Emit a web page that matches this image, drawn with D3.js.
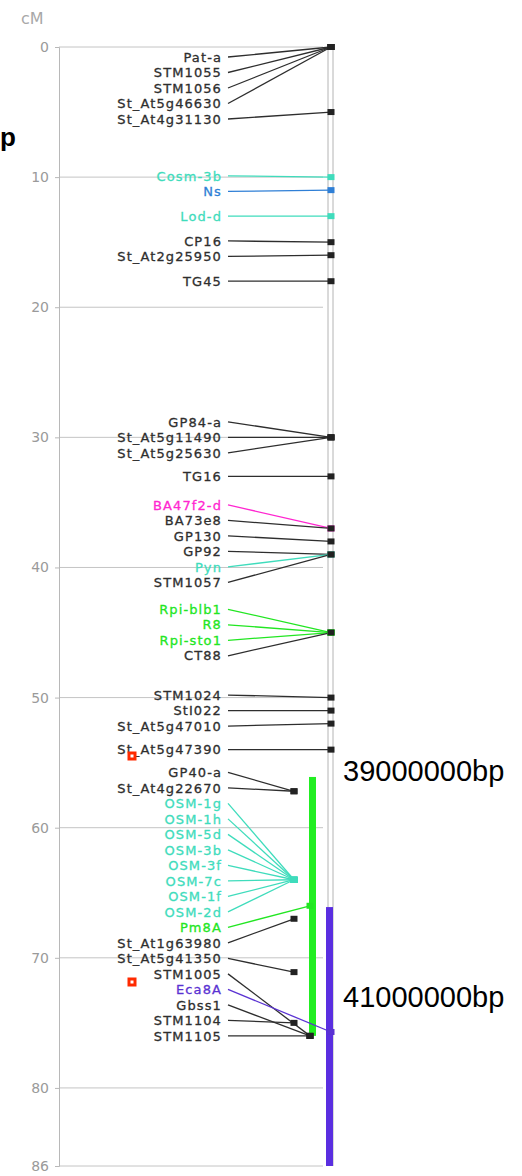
<!DOCTYPE html>
<html>
<head>
<meta charset="utf-8">
<script src="https://cdn.jsdelivr.net/npm/d3@7"></script>
<style>
  body { margin: 0; background: #fff; }
  svg { display: block; }
</style>
</head>
<body>
<div id="chart"></div>
<script>
// marker names, in map order
var markerNames = ["Pat-a","STM1055","STM1056","St_At5g46630","St_At4g31130",
  "Cosm-3b","Ns","Lod-d","CP16","St_At2g25950","TG45",
  "GP84-a","St_At5g11490","St_At5g25630","TG16",
  "BA47f2-d","BA73e8","GP130","GP92","Pyn","STM1057",
  "Rpi-blb1","R8","Rpi-sto1","CT88",
  "STM1024","StI022","St_At5g47010","St_At5g47390",
  "GP40-a","St_At4g22670",
  "OSM-1g","OSM-1h","OSM-5d","OSM-3b","OSM-3f","OSM-7c","OSM-1f","OSM-2d",
  "Pm8A","St_At1g63980","St_At5g41350","STM1005","Eca8A","Gbss1","STM1104","STM1105"];

// position of each marker in cM
var markerCM = [0,0,0,0,5,
  10,11,13,15,16,18,
  30,30,30,33,
  37,37,38,39,39,39,
  45,45,45,45,
  50,51,52,54,
  57.2,57.2,
  64,64,64,64,64,64,64,64,
  66,67,71.1,76,75.7,76,75,76];

// which track the marker sits on
var markerTrack = ["chr","chr","chr","chr","chr",
  "chr","chr","chr","chr","chr","chr",
  "chr","chr","chr","chr",
  "chr","chr","chr","chr","chr","chr",
  "chr","chr","chr","chr",
  "chr","chr","chr","chr",
  "side","side",
  "side","side","side","side","side","side","side","side",
  "qtl","side","side","qtl","chr","qtl","side","qtl"];

// marker class (decides the colour)
var markerType = ["m","m","m","m","m",
  "cyan","blue","cyan","m","m","m",
  "m","m","m","m",
  "magenta","m","m","m","cyan","m",
  "green","green","green","m",
  "m","m","m","m",
  "m","m",
  "cyan","cyan","cyan","cyan","cyan","cyan","cyan","cyan",
  "green","m","m","m","purple","m","m","m"];

// bp regions drawn as bars
var regionNames = ["39000000bp", "41000000bp"];
var regionStart = [56.1, 66.1];
var regionEnd = [76, 86];
var regionTrack = ["qtl", "chr"];

var axisTicks = [0, 10, 20, 30, 40, 50, 60, 70, 80, 86];

var colors = {
  m: "#2e2e2e", cyan: "#3fdcbc", blue: "#2f7fd6", magenta: "#ff26d0",
  green: "#22e622", purple: "#5a32d2"
};
var regionColors = ["#22ee22", "#5a2ee0"];

var width = 522, height = 1176;
var axisX = 59, gridEnd = 323;
var labelRight = 222, lineStart = 228;
var trackX = { chr: 331, qtl: 310, side: 294 };

var svg = d3.select("#chart").append("svg")
  .attr("width", width).attr("height", height);

var y = d3.scaleLinear().domain([0, 86]).range([47, 1166]);

// grid lines
svg.selectAll(".grid")
  .data(axisTicks)
  .enter().append("line")
    .attr("x1", axisX).attr("x2", gridEnd)
    .attr("y1", d => y(d)).attr("y2", d => y(d))
    .attr("stroke", "#c4c4c4").attr("stroke-width", 1);

// axis
var axis = svg.append("g")
  .attr("transform", "translate(" + axisX + ",0)")
  .call(d3.axisLeft(y).tickValues(axisTicks).tickSize(4).tickPadding(6));
axis.select(".domain").attr("stroke", "#b8b8b8");
axis.selectAll(".tick line").attr("stroke", "#b8b8b8");
axis.selectAll(".tick text")
  .attr("fill", "#9a9a9a")
  .style("font-family", "DejaVu Sans")
  .style("font-size", "14px");

svg.append("text")
  .attr("x", 21).attr("y", 24)
  .attr("fill", "#a8a8a8")
  .style("font-family", "DejaVu Sans").style("font-size", "16px")
  .text("cM");

// chromosome (double line)
[328, 333].forEach(function(x) {
  svg.append("line")
    .attr("x1", x).attr("x2", x)
    .attr("y1", y(0)).attr("y2", y(86))
    .attr("stroke", "#b4b4b4").attr("stroke-width", 1);
});

// region bars
svg.selectAll(".region")
  .data(regionNames)
  .enter().append("rect")
    .attr("x", (d, i) => regionTrack[i] == "chr" ? 326 : 309)
    .attr("y", (d, i) => y(regionStart[i]))
    .attr("width", 7)
    .attr("height", (d, i) => y(regionEnd[i]) - y(regionStart[i]))
    .attr("fill", (d, i) => regionColors[i]);

// spread the labels so they do not overlap; the markers that belong to the
// region tracks are stacked as one block, hung from the lowest marker
function spreadLabels(desired, gap, minY) {
  var first = markerTrack.findIndex(t => t != "chr");
  var last = markerTrack.length - 1 - markerTrack.slice().reverse().findIndex(t => t != "chr");
  var clusters = [];
  for (var i = 0; i < desired.length; i++) {
    if (i == first) {
      var n = last - first + 1;
      var bottom = d3.max(desired.slice(first, last + 1));
      clusters.push({ n: n, fixed: bottom - (n - 1) * gap });
      i = last;
    } else {
      clusters.push({ n: 1, sum: desired[i] });
    }
  }
  function top(c) {
    if (c.fixed != null) return c.fixed;
    return Math.max(minY, c.sum / c.n - (c.n - 1) * gap / 2);
  }
  var merged = true;
  while (merged) {
    merged = false;
    for (var j = 0; j < clusters.length - 1; j++) {
      var a = clusters[j], b = clusters[j + 1];
      if (a.fixed == null && b.fixed == null && top(b) < top(a) + a.n * gap) {
        a.n += b.n; a.sum += b.sum;
        clusters.splice(j + 1, 1);
        merged = true;
        break;
      }
    }
  }
  var out = [];
  clusters.forEach(function(c) {
    var t = top(c);
    for (var k = 0; k < c.n; k++) out.push(t + k * gap);
  });
  return out;
}

var labelY = spreadLabels(markerCM.map(d => y(d)), 15.5, 57);

// connector lines
svg.selectAll(".link")
  .data(markerNames)
  .enter().append("line")
    .attr("x1", lineStart)
    .attr("y1", (d, i) => labelY[i])
    .attr("x2", (d, i) => trackX[markerTrack[i]])
    .attr("y2", (d, i) => y(markerCM[i]))
    .attr("stroke", (d, i) => colors[markerType[i]])
    .attr("stroke-width", 1.3);

// marker dots
svg.selectAll(".dot")
  .data(markerNames)
  .enter().append("rect")
    .attr("x", (d, i) => trackX[markerTrack[i]] - 3.5)
    .attr("y", (d, i) => y(markerCM[i]) - 3)
    .attr("width", 7).attr("height", 6)
    .attr("fill", (d, i) => markerType[i] == "m" ? "#222" : colors[markerType[i]]);

// marker labels
svg.selectAll(".label")
  .data(markerNames)
  .enter().append("text")
    .attr("x", labelRight)
    .attr("y", (d, i) => labelY[i])
    .attr("dy", "0.36em")
    .attr("text-anchor", "end")
    .attr("fill", (d, i) => colors[markerType[i]])
    .attr("stroke", (d, i) => colors[markerType[i]])
    .attr("stroke-width", 0.3)
    .style("font-family", "DejaVu Sans")
    .style("font-size", "13px")
    .style("letter-spacing", "1.1px")
    .text(d => d);

// bp annotations
var bpTextY = [771, 997];
svg.selectAll(".bp")
  .data(regionNames)
  .enter().append("text")
    .attr("x", 343)
    .attr("y", (d, i) => bpTextY[i])
    .attr("dy", "0.36em")
    .attr("fill", "#000")
    .style("font-family", "Liberation Sans")
    .style("font-size", "29px")
    .text(d => d);

// tail of a label cut by the left edge
svg.append("text")
  .attr("x", 0).attr("y", 146)
  .attr("fill", "#000")
  .style("font-family", "Liberation Sans").style("font-size", "26px")
  .style("font-weight", "bold")
  .text("p");

// small red markers
[756, 982].forEach(function(cy) {
  svg.append("rect").attr("x", 127.5).attr("y", cy - 4.5)
    .attr("width", 9).attr("height", 9).attr("fill", "#ff2a00");
  svg.append("rect").attr("x", 130.5).attr("y", cy - 1.5)
    .attr("width", 3).attr("height", 3).attr("fill", "#fff");
});
</script>
</body>
</html>
